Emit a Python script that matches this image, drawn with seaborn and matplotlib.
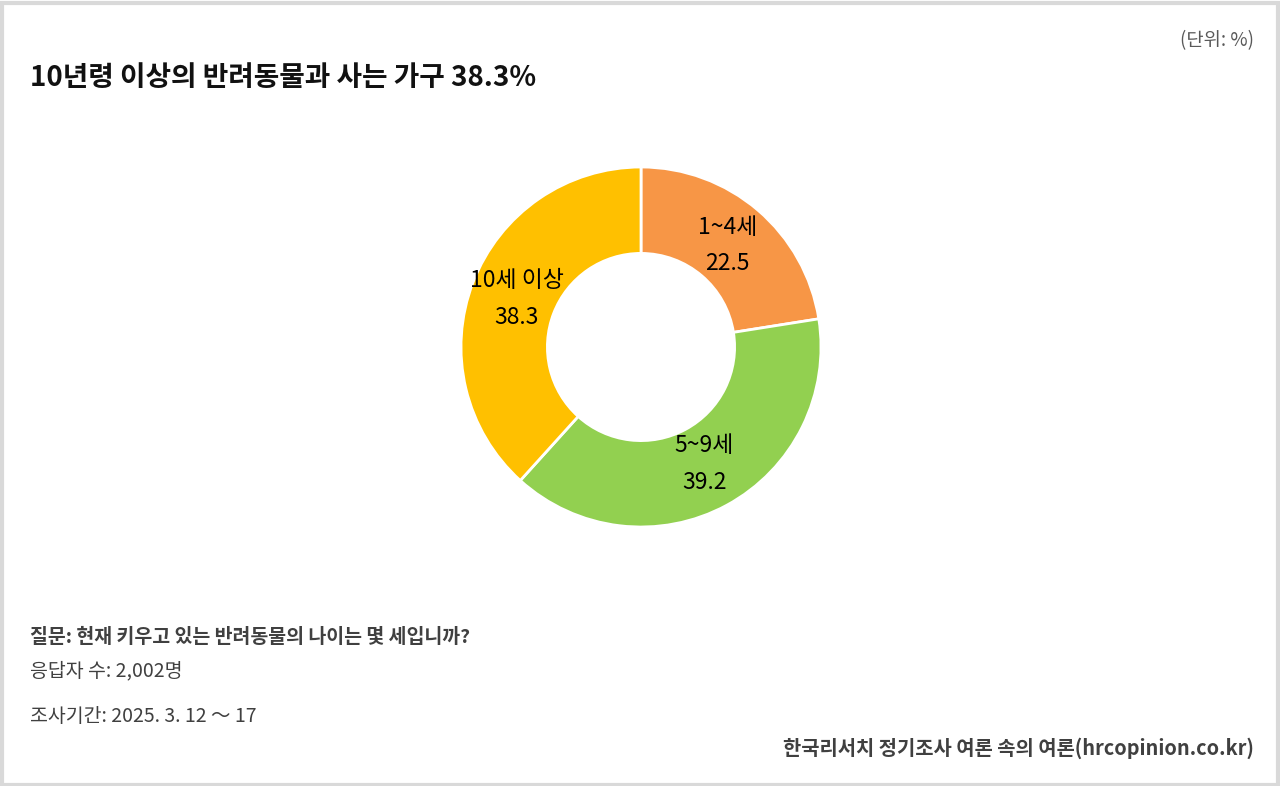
import matplotlib
matplotlib.use('Agg')
import matplotlib.pyplot as plt
import seaborn as sns
from matplotlib.patches import Rectangle

# data
categories = ['1~4세', '5~9세', '10세 이상']
values = [22.5, 39.2, 38.3]
colors = ['#F79646', '#92D050', '#FFC000']

title = '10년령 이상의 반려동물과 사는 가구 38.3%'
unit = '(단위: %)'
notes = ['질문: 현재 키우고 있는 반려동물의 나이는 몇 세입니까?',
         '응답자 수: 2,002명',
         '조사기간: 2025. 3. 12 ～ 17']
source = '한국리서치 정기조사 여론 속의 여론(hrcopinion.co.kr)'

sns.set_theme(style='white')
plt.rcParams['font.family'] = ['Noto Sans CJK KR', 'DejaVu Sans']

W, H = 1280, 786
fig = plt.figure(figsize=(W / 100, H / 100), dpi=100)
fig.patch.set_facecolor('white')

# outer frame
fig.patches.append(Rectangle((1.5 / W, 1.5 / H), 1 - 4 / W, 1 - 4 / H,
                             transform=fig.transFigure, fill=False,
                             edgecolor='#D9D9D9', linewidth=3))

# donut: center (641, 347), radius 180 px
cx, cy, r = 641, 347, 180
ax = fig.add_axes([(cx - r) / W, 1 - (cy + r) / H, 2 * r / W, 2 * r / H])
labels = [f'{c}\n{v}' for c, v in zip(categories, values)]
wedges, texts = ax.pie(values, colors=colors, startangle=90, counterclock=False,
                       labels=labels, labeldistance=0.74,
                       wedgeprops=dict(width=0.48, edgecolor='white', linewidth=2),
                       textprops=dict(fontsize=16.5, fontweight='medium', color='black',
                                      ha='center', va='center', linespacing=1.75))
ax.set_xlim(-1, 1)
ax.set_ylim(-1, 1)
ax.set_aspect('equal')
ax.axis('off')

def fx(x):
    return x / W

def fy(y):
    return 1 - y / H

fig.text(fx(30), fy(78), title, fontsize=20, fontweight='bold', color='#111111',
         ha='left', va='center')
fig.text(fx(1254), fy(41), unit, fontsize=13.5, color='#595959', ha='right', va='center')

fig.text(fx(30), fy(637), notes[0], fontsize=14, fontweight='bold', color='#404040',
         ha='left', va='center')
fig.text(fx(30), fy(671), notes[1], fontsize=14, color='#404040', ha='left', va='center')
fig.text(fx(30), fy(716), notes[2], fontsize=14, color='#404040', ha='left', va='center')
fig.text(fx(1254), fy(748), source, fontsize=14.3, fontweight='bold', color='#404040',
         ha='right', va='center')

fig.savefig('out.png', dpi=100, facecolor='white')
